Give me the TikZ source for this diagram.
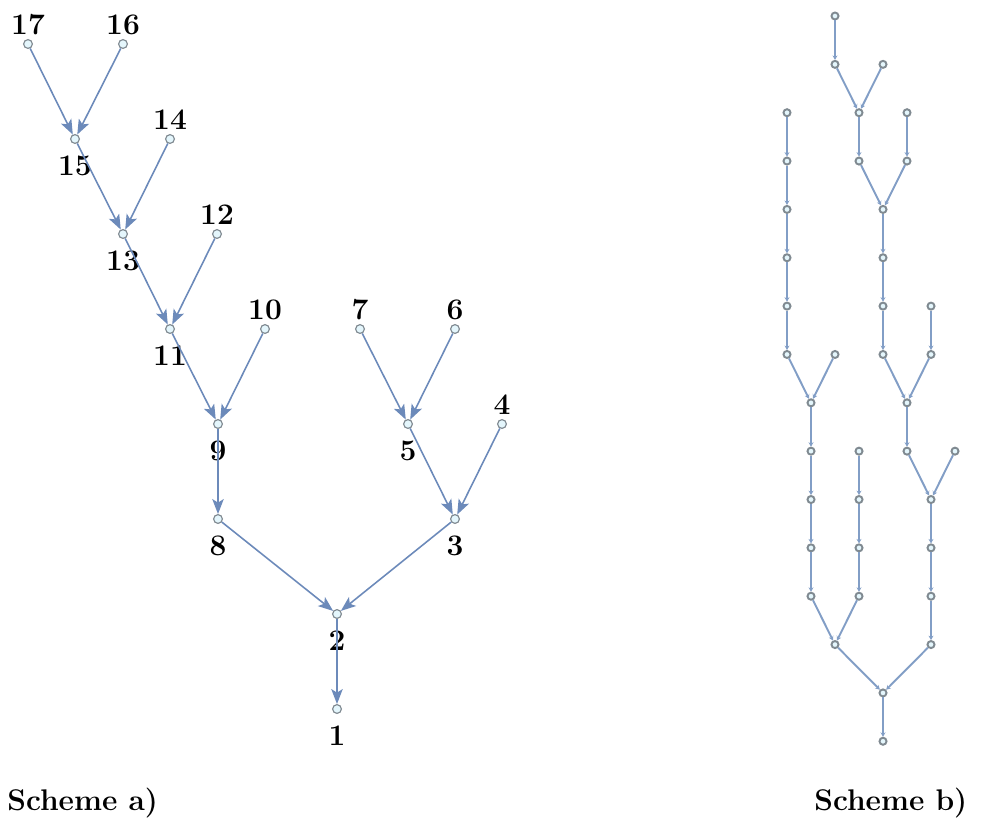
\documentclass[tikz,border=0pt]{standalone}
\usetikzlibrary{arrows.meta}
\definecolor{edgeA}{RGB}{108,138,186}
\definecolor{edgeB}{RGB}{130,158,198}
\definecolor{nodefill}{RGB}{228,246,252}
\definecolor{nodedraw}{RGB}{128,138,145}
\begin{document}
\begin{tikzpicture}[x=0.02cm,y=-0.02cm,
 na/.style={circle,draw=nodedraw,fill=nodefill,line width=0.65pt,minimum size=5pt,inner sep=0pt},
 nb/.style={circle,draw=nodedraw,fill=nodefill,line width=1.1pt,minimum size=4pt,inner sep=0pt},
 lab/.style={font=\fontsize{17}{20}\selectfont\bfseries,inner sep=0pt},
 labup/.style={label={[lab,label distance=2.3pt]above:#1}},
 labdn/.style={label={[lab,label distance=6.6pt]below:#1}},
 ea/.style={draw=edgeA,line width=0.9pt,-{Stealth[length=8.5pt,width=6.5pt,inset=2pt]}},
 eb/.style={draw=edgeB,line width=1.1pt,-{Stealth[length=2.5pt,width=2.8pt]}},
 title/.style={font=\fontsize{17}{20}\selectfont\bfseries,anchor=west,inner sep=0pt}]
\useasboundingbox (0,0) rectangle (981,819);
% Scheme a
\node[na,labup=17] (n17) at (28,44) {};
\node[na,labup=16] (n16) at (123,44) {};
\node[na,labdn=15] (n15) at (75,139) {};
\node[na,labup=14] (n14) at (170,139) {};
\node[na,labdn=13] (n13) at (123,234) {};
\node[na,labup=12] (n12) at (217,234) {};
\node[na,labdn=11] (n11) at (170,329) {};
\node[na,labup=10] (n10) at (265,329) {};
\node[na,labup=7] (n7) at (360,329) {};
\node[na,labup=6] (n6) at (455,329) {};
\node[na,labdn=9] (n9) at (218,424) {};
\node[na,labdn=5] (n5) at (408,424) {};
\node[na,labup=4] (n4) at (502,424) {};
\node[na,labdn=8] (n8) at (218,519) {};
\node[na,labdn=3] (n3) at (455,519) {};
\node[na,labdn=2] (n2) at (337,614) {};
\node[na,labdn=1] (n1) at (337,709) {};
\foreach \a/\b in {17/15,16/15,15/13,14/13,13/11,12/11,11/9,10/9,9/8,7/5,6/5,5/3,4/3,8/2,3/2,2/1}
  \draw[ea] (n\a) -- (n\b);
% Scheme b
\foreach \c/\r in {2/0,2/1,4/1,0/2,3/2,5/2,0/3,3/3,5/3,0/4,4/4,0/5,4/5,0/6,4/6,6/6,0/7,2/7,4/7,6/7,1/8,5/8,1/9,3/9,5/9,7/9,1/10,3/10,6/10,1/11,3/11,6/11,1/12,3/12,6/12,2/13,6/13,4/14,4/15}
  \node[nb] (b\c-\r) at ({787+24*\c},{16+48.35*\r}) {};
\foreach \a/\b in {2-0/2-1,2-1/3-2,4-1/3-2,3-2/3-3,5-2/5-3,3-3/4-4,5-3/4-4,4-4/4-5,4-5/4-6,4-6/4-7,6-6/6-7,4-7/5-8,6-7/5-8,5-8/5-9,5-9/6-10,7-9/6-10,6-10/6-11,6-11/6-12,6-12/6-13,6-13/4-14,0-2/0-3,0-3/0-4,0-4/0-5,0-5/0-6,0-6/0-7,0-7/1-8,2-7/1-8,1-8/1-9,1-9/1-10,1-10/1-11,1-11/1-12,3-9/3-10,3-10/3-11,3-11/3-12,1-12/2-13,3-12/2-13,2-13/4-14,4-14/4-15}
  \draw[eb] (b\a) -- (b\b);
% Titles
\node[title] (ta) at (7,803) {Scheme a)};
\node[title] (tb) at (814,803) {Scheme b)};
\end{tikzpicture}
\end{document}
